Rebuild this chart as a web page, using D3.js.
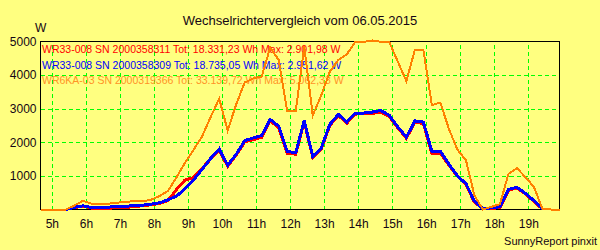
<!DOCTYPE html>
<html>
<head>
<meta charset="utf-8">
<script src="https://cdn.jsdelivr.net/npm/d3@7/dist/d3.min.js"></script>
<style>
  body { margin: 0; background: #ffff80; }
  svg { display: block; font-family: "Liberation Sans", Arial, sans-serif; }
  .grid line { stroke: #00ff00; stroke-dasharray: 4,3; shape-rendering: crispEdges; }
  .grid .domain, .axis .domain { display: none; }
  .axis text { fill: #140614; font-size: 12px; }
  .line { fill: none; shape-rendering: crispEdges; }
  .frame { fill: none; stroke: #000; shape-rendering: crispEdges; }
</style>
</head>
<body>
<div id="chart"></div>
<script>
// sample times (15 min)
var times = ["4:40","4:55","5:10","5:25","5:40","5:55","6:10","6:25","6:40","6:55",
  "7:10","7:25","7:40","7:55","8:10","8:25","8:40","8:55","9:10","9:25",
  "9:40","9:55","10:10","10:25","10:40","10:55","11:10","11:25","11:40","11:55",
  "12:10","12:25","12:40","12:55","13:10","13:25","13:40","13:55","14:10","14:25",
  "14:40","14:55","15:10","15:25","15:40","15:55","16:10","16:25","16:40","16:55",
  "17:10","17:25","17:40","17:55","18:10","18:25","18:40","18:55","19:10","19:25",
  "19:40","19:55"];

var wr311 = [null,null,null,0,60,100,40,40,40,50,
  60,90,110,140,180,270,600,880,950,1230,
  1500,1760,1290,1620,2010,2080,2150,2640,2440,1660,
  1650,2610,1550,1800,2500,2800,2570,2840,2850,2860,
  2900,2770,2430,2120,2600,2560,1660,1680,1320,990,
  740,220,20,30,60,570,640,460,240,10,
  null,null];

var wr309 = [null,null,null,0,70,110,60,60,70,90,
  100,110,130,160,200,290,400,620,880,1200,
  1520,1800,1320,1640,2050,2130,2200,2680,2480,1720,
  1700,2640,1580,1830,2530,2830,2600,2870,2870,2900,
  2950,2800,2460,2150,2640,2600,1730,1730,1350,1000,
  770,250,20,50,80,600,660,480,260,10,
  null,null];

var wr366 = [0,0,0,0,120,260,170,165,175,200,
  235,240,245,290,400,560,960,1400,1780,2180,
  2750,3300,2350,3130,3780,3900,3960,4820,4450,2930,
  2930,4850,2800,3400,4100,4450,4620,4990,4990,5030,
  4990,4980,4400,3820,4750,4750,3110,3180,2400,1780,
  1470,420,0,80,160,1060,1230,960,670,10,
  0,0];

var seriesNames = ["WR33-008 SN 2000358311 Tot: 18.331,23 Wh Max: 2.901,98 W",
  "WR33-008 SN 2000358309 Tot: 18.735,05 Wh Max: 2.951,62 W",
  "WR6KA-03 SN 2000319366 Tot: 33.139,72 Wh Max: 5.062,33 W"];
var seriesColors = ["#ff0000", "#0000ff", "#ff8000"];
var seriesWidths = [3, 3, 2];

var hourTicks = [5,6,7,8,9,10,11,12,13,14,15,16,17,18,19];
var valueTicks = [1000,2000,3000,4000,5000];

var toHours = function(s) {
  var p = s.split(":").map(Number);
  return p[0] + p[1] / 60;
};

var render = function() {
  var width = 600, height = 250;
  var margins = { top: 41.5, right: 40.5, bottom: 40.5, left: 40.5 };
  var chartWidth = width - margins.left - margins.right;
  var chartHeight = height - margins.top - margins.bottom;

  var svg = d3.select("#chart").append("svg")
    .attr("width", width)
    .attr("height", height);

  svg.append("text")
    .attr("x", 300).attr("y", 24.5)
    .attr("text-anchor", "middle")
    .style("font-size", "13px")
    .attr("fill", "#140614")
    .text("Wechselrichtervergleich vom 06.05.2015");

  svg.append("text")
    .attr("x", 35).attr("y", 31.5)
    .style("font-size", "12px")
    .attr("fill", "#140614")
    .text("W");

  svg.append("text")
    .attr("x", 597).attr("y", 245)
    .attr("text-anchor", "end")
    .style("font-size", "11px")
    .attr("fill", "#140614")
    .text("SunnyReport pinxit");

  var chart = svg.append("g")
    .attr("transform", "translate(" + margins.left + "," + margins.top + ")");

  var xScale = d3.scaleLinear()
    .domain([toHours(times[0]), toHours(times[times.length - 1])])
    .range([0, chartWidth]);

  var yScale = d3.scaleLinear()
    .domain([0, 5000])
    .range([chartHeight, 0]);

  // grid
  chart.append("g")
    .attr("class", "grid")
    .attr("transform", "translate(0," + chartHeight + ")")
    .call(d3.axisBottom(xScale).tickValues(hourTicks).tickSize(-chartHeight).tickFormat(""));

  chart.append("g")
    .attr("class", "grid")
    .call(d3.axisLeft(yScale).tickValues(valueTicks.slice(0, 4)).tickSize(-chartWidth).tickFormat(""));

  // axes labels
  chart.append("g")
    .attr("class", "axis")
    .attr("transform", "translate(0," + chartHeight + ")")
    .call(d3.axisBottom(xScale).tickValues(hourTicks).tickSize(0).tickPadding(10)
      .tickFormat(function(d) { return d + "h"; }));

  chart.append("g")
    .attr("class", "axis")
    .call(d3.axisLeft(yScale).tickValues(valueTicks).tickSize(0).tickPadding(4)
      .tickFormat(d3.format("d")));

  chart.append("rect")
    .attr("class", "frame")
    .attr("width", chartWidth)
    .attr("height", chartHeight);

  // legend
  chart.selectAll(".legend")
    .data(seriesNames)
    .enter()
    .append("text")
    .attr("class", "legend")
    .attr("x", 1.5)
    .attr("y", function(d, i) { return 11.5 + i * 15.5; })
    .style("font-size", "10.5px")
    .attr("fill", function(d, i) { return i == 2 ? "#ff9326" : seriesColors[i]; })
    .text(function(d) { return d; });

  var line = d3.line()
    .defined(function(d) { return d.v != null; })
    .x(function(d) { return xScale(toHours(d.t)); })
    .y(function(d) { return yScale(d.v); });

  var series = [wr311, wr309, wr366];
  series.forEach(function(values, i) {
    chart.append("path")
      .datum(values.map(function(v, j) { return { t: times[j], v: v }; }))
      .attr("class", "line")
      .attr("stroke", seriesColors[i])
      .attr("stroke-width", seriesWidths[i])
      .attr("d", line);
  });
};

render();
</script>
</body>
</html>
